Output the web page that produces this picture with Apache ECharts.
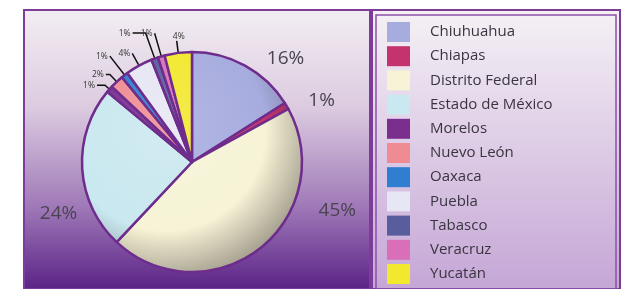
<!DOCTYPE html>
<html>
<head>
<meta charset="UTF-8">
<title>Estados</title>
<style>
  html, body { margin: 0; padding: 0; background: #fff; }
  #main { width: 623px; height: 289px; }
</style>
</head>
<body>
<div id="main"></div>
<script src="https://cdn.jsdelivr.net/npm/echarts@6/dist/echarts.min.js"></script>
<script>
// datos
var estados = ['Chiuhuahua', 'Chiapas', 'Distrito Federal', 'Estado de México', 'Morelos',
               'Nuevo León', 'Oaxaca', 'Puebla', 'Tabasco', 'Veracruz', 'Yucatán'];
var porcentajes = [16, 1, 45, 24, 1, 2, 1, 4, 1, 1, 4];
var colores = ['#a7acdf', '#c4336e', '#f6f3d6', '#c9e8ef', '#7a2f8f', '#ef8c93',
               '#2f7ed0', '#e6e6f4', '#585d9e', '#d86fb8', '#f2e82e'];

function mix(hex, target, t) {
  var a = parseInt(hex.slice(1), 16), b = parseInt(target.slice(1), 16);
  var r = Math.round(((a >> 16) & 255) * (1 - t) + ((b >> 16) & 255) * t);
  var g = Math.round(((a >> 8) & 255) * (1 - t) + ((b >> 8) & 255) * t);
  var bl = Math.round((a & 255) * (1 - t) + (b & 255) * t);
  return 'rgb(' + r + ',' + g + ',' + bl + ')';
}

function shade(c) {
  return {
    type: 'radial', x: 165, y: 130, r: 155, global: true,
    colorStops: [
      { offset: 0, color: mix(c, '#ffffff', 0.15) },
      { offset: 0.65, color: c },
      { offset: 1, color: mix(c, '#3a3030', 0.45) }
    ]
  };
}

// largo de las líneas guía de las rebanadas chicas [length, length2]
var lineas = { 4: [6, 8], 5: [10, 4], 6: [24, 0], 7: [14, 0], 8: [27, 13], 9: [24, 0], 10: [12, 0] };
// ajuste fino de etiquetas
var ajustes = { 0: [4, 2], 2: [40, -46], 3: [30, 43], 10: [10, -4] };

var datos = estados.map(function (n, i) {
  var d = { name: n, value: porcentajes[i], itemStyle: { color: shade(colores[i]) } };
  if (i < 4) {
    d.label = { fontSize: 19, color: '#4a4450' };
    d.labelLine = { show: false, length: i === 3 ? 22 : 10, length2: 8 };
  } else {
    d.label = { fontSize: 8.5, color: '#333', distanceToLabelLine: 2 };
    d.labelLine = { show: true, length: lineas[i][0], length2: lineas[i][1],
                    lineStyle: { color: '#111', width: 1.5 } };
  }
  return d;
});

var chart = echarts.init(document.getElementById('main'));
chart.setOption({
  animation: false,
  graphic: [
    { type: 'rect', shape: { x: 24, y: 10, width: 346, height: 279 },
      style: { fill: { type: 'linear', x: 0, y: 0, x2: 0, y2: 1, colorStops: [
        { offset: 0, color: '#f3eef3' }, { offset: 0.35, color: '#dccbe0' },
        { offset: 0.7, color: '#a07ab8' }, { offset: 1, color: '#5a2286' }] },
        stroke: '#7d3c9a', lineWidth: 2 }, z: -10 },
    { type: 'rect', shape: { x: 372, y: 10, width: 248, height: 279 },
      style: { fill: { type: 'linear', x: 0, y: 0, x2: 0, y2: 1, colorStops: [
        { offset: 0, color: '#f5f1f5' }, { offset: 1, color: '#c5a6d6' }] },
        stroke: '#7d3c9a', lineWidth: 2 }, z: -10 },
    { type: 'rect', shape: { x: 376, y: 15, width: 240, height: 274 },
      style: { fill: 'none', stroke: '#8a50a8', lineWidth: 1.5 }, z: -9 }
  ],
  legend: {
    orient: 'vertical', left: 387, top: 22, height: 275, padding: 0,
    itemWidth: 23, itemHeight: 20, itemGap: 4.2,
    icon: 'rect',
    itemStyle: { borderWidth: 0 },
    textStyle: { fontFamily: 'Open Sans', fontSize: 15, color: '#3a3440', padding: [0, 0, 0, 15] },
    data: estados.map(function (n, i) { return { name: n, itemStyle: { color: colores[i] } }; })
  },
  series: [{
    type: 'pie',
    center: [192, 162],
    radius: 110,
    startAngle: 90,
    clockwise: true,
    avoidLabelOverlap: false,
    itemStyle: { borderColor: '#6e2c8c', borderWidth: 2.5 },
    label: { show: true, position: 'outside', formatter: '{c}%', fontFamily: 'Open Sans' },
    labelLayout: function (p) {
      var a = ajustes[p.dataIndex];
      return a ? { dx: a[0], dy: a[1] } : {};
    },
    emphasis: { disabled: true },
    data: datos
  }]
});
</script>
</body>
</html>
